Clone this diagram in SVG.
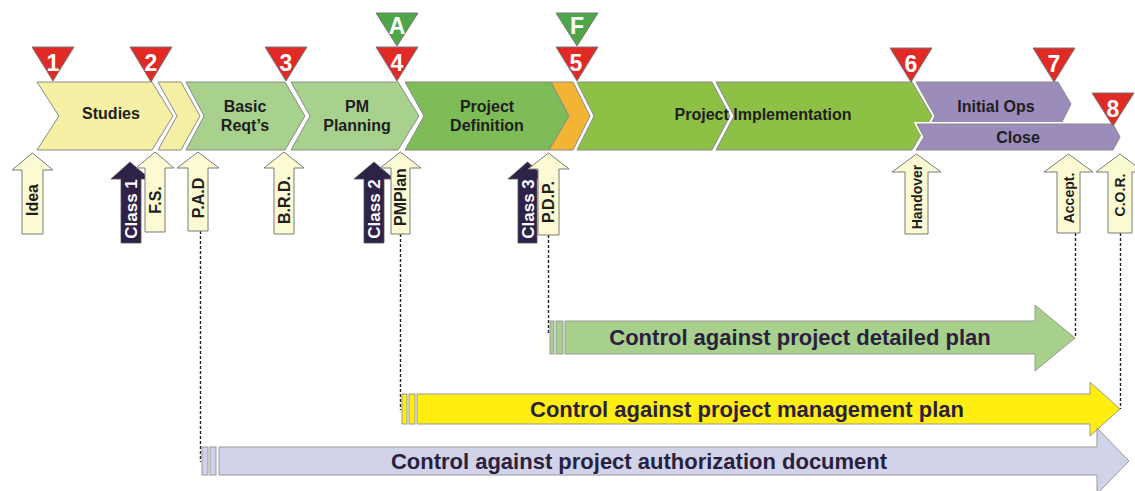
<svg xmlns="http://www.w3.org/2000/svg" width="1135" height="491" viewBox="0 0 1135 491">
<style>
.chev{stroke:#8a8a8a;stroke-width:1}
.halo{fill:none;stroke:#fff;stroke-width:4}
.lbl{font-family:"Liberation Sans",Arial,sans-serif;font-weight:bold;font-size:16px;fill:#1e1e1e;text-anchor:middle}
.tri-r{fill:#e12a26;stroke:#777;stroke-width:1}
.tri-g{fill:#4ea649;stroke:#777;stroke-width:1}
.num{font-family:"Liberation Sans",Arial,sans-serif;font-weight:bold;font-size:23px;fill:#fff;text-anchor:middle}
.doc{fill:#fbfad3;stroke:#7a7a7a;stroke-width:1}
.cls{fill:#2f2248;stroke:#555;stroke-width:0.8}
.dtxt{font-family:"Liberation Sans",Arial,sans-serif;font-weight:bold;font-size:16px;fill:#1e1e1e;text-anchor:middle}
.dtxs{font-family:"Liberation Sans",Arial,sans-serif;font-weight:bold;font-size:14px;fill:#1e1e1e;text-anchor:middle}
.ctxt{font-family:"Liberation Sans",Arial,sans-serif;font-weight:bold;font-size:17px;fill:#fff;text-anchor:middle}
.dash{fill:none;stroke:#222;stroke-width:1.4;stroke-dasharray:3 2}
.big{font-family:"Liberation Sans",Arial,sans-serif;font-weight:bold;font-size:22px;fill:#2b1f3f;text-anchor:middle}
.bar{stroke:#999;stroke-width:1}
</style>

<g id="phases">
  <g id="studies">
    <polygon class="chev" fill="#f5f0a3" points="37,82 152,82 173,116 152,150 37,150 59,116"/>
    <text class="lbl" x="111" y="119">Studies</text>
  </g>
  <g id="studies-end">
    <polygon class="chev" fill="#f5f0a3" points="158,82 181,82 200,116 181,150 158,150 177,116"/>
  </g>
  <g id="basic-reqts">
    <polygon class="chev" fill="#a9d18e" points="186,82 285,82 305,116 285,150 186,150 204,116"/>
    <text class="lbl" x="245" y="112">Basic</text>
    <text class="lbl" x="245" y="131">Reqt’s</text>
  </g>
  <g id="pm-planning">
    <polygon class="chev" fill="#a9d18e" points="291,82 398,82 419,116 398,150 291,150 310,116"/>
    <text class="lbl" x="357" y="112">PM</text>
    <text class="lbl" x="357" y="131">Planning</text>
  </g>
  <g id="project-definition">
    <polygon class="chev" fill="#7ebc57" points="405,82 551,82 569,116 549,150 405,150 424,116"/>
    <text class="lbl" x="487" y="112">Project</text>
    <text class="lbl" x="487" y="131">Definition</text>
  </g>
  <g id="orange-gate">
    <polygon class="chev" fill="#f4b433" points="551,82 573,82 590,116 573,150 549,150 569,116"/>
  </g>
  <g id="project-implementation">
    <polygon class="chev" fill="#8fc046" points="577,82 712,82 730,116 712,150 577,150 594,116"/>
    <polygon class="chev" fill="#8fc046" points="716,82 912,82 932,116 912,150 716,150 734,116"/>
    <text class="lbl" x="763" y="120">Project Implementation</text>
  </g>
  <g id="initial-ops">
    <polygon class="chev" fill="#9b8cbb" points="916,82 1058,82 1071,104 1060,126 930,126 935,116"/>
    <text class="lbl" x="996" y="112">Initial Ops</text>
  </g>
  <g id="close">
    <polygon class="halo" points="917,124 1113,124 1120,137 1113,150 916,150 924,137"/>
    <polygon class="chev" fill="#9b8cbb" points="917,124 1113,124 1120,137 1113,150 916,150 924,137"/>
    <text class="lbl" x="1018" y="143">Close</text>
  </g>
</g>

<g id="milestones">
  <g id="m1"><polygon class="tri-r" points="32,47 74,47 53,81"/><text class="num" x="53" y="71">1</text></g>
  <g id="m2"><polygon class="tri-r" points="130,47 172,47 151,82"/><text class="num" x="151" y="71">2</text></g>
  <g id="m3"><polygon class="tri-r" points="265,47 307,47 286,81"/><text class="num" x="286" y="71">3</text></g>
  <g id="mA"><polygon class="tri-g" points="376,13 418,13 397,46"/><text class="num" x="397" y="34">A</text></g>
  <g id="m4"><polygon class="tri-r" points="376,47 418,47 397,81"/><text class="num" x="397" y="71">4</text></g>
  <g id="mF"><polygon class="tri-g" points="556,13 598,13 577,46"/><text class="num" x="577" y="34">F</text></g>
  <g id="m5"><polygon class="tri-r" points="556,47 598,47 577,81"/><text class="num" x="576" y="71">5</text></g>
  <g id="m6"><polygon class="tri-r" points="890,48 932,48 911,82"/><text class="num" x="911" y="72">6</text></g>
  <g id="m7"><polygon class="tri-r" points="1033,48 1075,48 1054,82"/><text class="num" x="1054" y="72">7</text></g>
  <g id="m8"><polygon class="tri-r" points="1092,93 1134,93 1113,126"/><text class="num" x="1113" y="117">8</text></g>
</g>

<g id="connectors">
  <line class="dash" x1="200.5" y1="231" x2="200.5" y2="462"/>
  <line class="dash" x1="400.5" y1="234" x2="400.5" y2="410"/>
  <line class="dash" x1="548.5" y1="235" x2="548.5" y2="333"/>
  <line class="dash" x1="1075.5" y1="233" x2="1075.5" y2="337"/>
  <line class="dash" x1="1120.5" y1="233" x2="1120.5" y2="409"/>
</g>

<g id="class-gates">
  <g id="class1"><polygon class="cls" points="130,162 150,179 141,179 141,243 121,243 121,179 111,179"/><text class="ctxt" transform="translate(137,209) rotate(-90)">Class 1</text></g>
  <g id="class2"><polygon class="cls" points="374,162 394,179 384,179 384,243 364,243 364,179 354,179"/><text class="ctxt" transform="translate(380,209) rotate(-90)">Class 2</text></g>
  <g id="class3"><polygon class="cls" points="527.5,162 547,179 537,179 537,243 518,243 518,179 508,179"/><text class="ctxt" transform="translate(533.5,209) rotate(-90)">Class 3</text></g>
</g>

<g id="documents">
  <g id="idea"><polygon class="doc" points="32.5,153 53,170 43,170 43,234 22,234 22,170 12,170"/><text class="dtxt" transform="translate(38.2,200) rotate(-90)">Idea</text></g>
  <g id="fs"><polygon class="doc" points="155,152 174,168 165,168 165,232 145,232 145,168 136,168"/><text class="dtxt" transform="translate(160.7,200) rotate(-90)">F.S.</text></g>
  <g id="pad"><polygon class="doc" points="198,152 219,168 208,168 208,231 188,231 188,168 177,168"/><text class="dtxt" transform="translate(203.7,198) rotate(-90)">P.A.D</text></g>
  <g id="brd"><polygon class="doc" points="284,152 304,168 294,168 294,234 274,234 274,168 264,168"/><text class="dtxt" transform="translate(289.7,200) rotate(-90)">B.R.D.</text></g>
  <g id="pmplan"><polygon class="doc" points="400.5,152 421,168 410,168 410,234 391,234 391,168 380,168"/><text class="dtxt" transform="translate(406.2,197) rotate(-90)">PMPlan</text></g>
  <g id="pdp"><polygon class="doc" points="548.5,153 569,169 559,169 559,235 538,235 538,169 528,169"/><text class="dtxt" transform="translate(554.2,202) rotate(-90)">P.D.P.</text></g>
  <g id="handover"><polygon class="doc" points="916.5,154 941,172 928,172 928,234 905,234 905,172 892,172"/><text class="dtxs" transform="translate(921.5,197) rotate(-90)">Handover</text></g>
  <g id="accept"><polygon class="doc" points="1068.5,154 1093,172 1080,172 1080,233 1057,233 1057,172 1044,172"/><text class="dtxs" transform="translate(1073.5,198) rotate(-90)">Accept.</text></g>
  <g id="cor"><polygon class="doc" points="1120,154 1144,172 1132,172 1132,233 1108,233 1108,172 1096,172"/><text class="dtxs" transform="translate(1125,195) rotate(-90)">C.O.R.</text></g>
</g>

<g id="control-detailed">
  <rect class="bar" fill="#a7d08c" x="550" y="321" width="4" height="33"/>
  <rect class="bar" fill="#a7d08c" x="556" y="321" width="7" height="33"/>
  <polygon class="bar" fill="#a7d08c" points="565,321 1035,321 1035,305 1075,338 1035,371 1035,354 565,354"/>
  <text class="big" x="800" y="345">Control against project detailed plan</text>
</g>
<g id="control-management">
  <rect class="bar" fill="#ffee10" x="402" y="394" width="5" height="30"/>
  <rect class="bar" fill="#ffee10" x="409" y="394" width="6" height="30"/>
  <polygon class="bar" fill="#ffee10" points="417,394 1090,394 1090,382 1120,409 1090,436 1090,424 417,424"/>
  <text class="big" x="747" y="417">Control against project management plan</text>
</g>
<g id="control-authorization">
  <rect class="bar" fill="#d1d3e8" x="202" y="447" width="6" height="28"/>
  <rect class="bar" fill="#d1d3e8" x="210" y="447" width="6" height="28"/>
  <polygon class="bar" fill="#d1d3e8" points="219,447 1097,447 1097,428 1129,461 1097,494 1097,475 219,475"/>
  <text class="big" x="639" y="469">Control against project authorization document</text>
</g>
</svg>
